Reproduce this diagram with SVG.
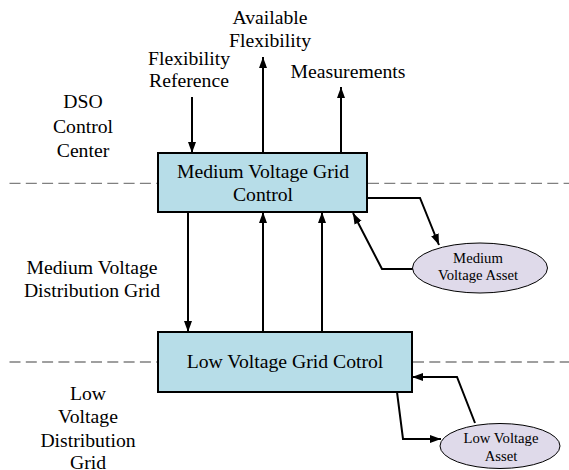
<svg xmlns="http://www.w3.org/2000/svg" width="569" height="470" viewBox="0 0 569 470">
<defs>
<marker id="ah" markerUnits="userSpaceOnUse" markerWidth="12" markerHeight="9" refX="11" refY="4" orient="auto">
<path d="M0,0 L11,4 L0,8 z" fill="#000"/>
</marker>
<style>
.t{fill:#000;text-anchor:middle}
.l{font-size:19.7px}
.s{font-size:14.7px}
.dash{stroke:#808080;stroke-width:1.3;stroke-dasharray:11 5.3;fill:none}
.c{stroke:#000;stroke-width:2;fill:none;marker-end:url(#ah)}
.box{fill:#b7dde8;stroke:#000;stroke-width:2}
.ell{fill:#dfdaea;stroke:#000;stroke-width:1}
</style>
</defs>
<rect width="569" height="470" fill="#fff"/>
<g id="separators">
<line class="dash" x1="9.5" y1="183.3" x2="158" y2="183.3"/>
<line class="dash" x1="368" y1="183.3" x2="569" y2="183.3"/>
<line class="dash" x1="9.5" y1="362" x2="158" y2="362"/>
<line class="dash" x1="413" y1="362" x2="569" y2="362"/>
</g>
<g id="labels" font-family="'Liberation Serif', 'DejaVu Serif', serif">
<text class="t l" x="83" y="108">DSO</text>
<text class="t l" x="83" y="133">Control</text>
<text class="t l" x="83" y="157">Center</text>
<text class="t l" x="92" y="274">Medium Voltage</text>
<text class="t l" x="92" y="297">Distribution Grid</text>
<text class="t l" x="88" y="400">Low</text>
<text class="t l" x="88" y="423">Voltage</text>
<text class="t l" x="88" y="447">Distribution</text>
<text class="t l" x="88" y="469">Grid</text>
<text class="t l" x="270" y="24">Available</text>
<text class="t l" x="270" y="47">Flexibility</text>
<text class="t l" x="189" y="65">Flexibility</text>
<text class="t l" x="189" y="87">Reference</text>
<text class="t l" x="348" y="78">Measurements</text>
</g>
<g id="connectors">
<line class="c" x1="192" y1="97" x2="192" y2="153"/>
<line class="c" x1="263" y1="153" x2="263" y2="57"/>
<line class="c" x1="341" y1="153" x2="341" y2="87"/>
<line class="c" x1="188" y1="212" x2="188" y2="332"/>
<line class="c" x1="263" y1="332" x2="263" y2="212"/>
<line class="c" x1="322" y1="332" x2="322" y2="212"/>
<polyline class="c" points="367,198 420,198 439,245"/>
<polyline class="c" points="413,269 382,269 353,213"/>
<polyline class="c" points="475,423 457,377 412,377"/>
<polyline class="c" points="397,392 403,439 441,439"/>
</g>
<g id="mv-control" font-family="'Liberation Serif', 'DejaVu Serif', serif">
<rect class="box" x="158" y="153" width="209" height="59"/>
<text class="t l" x="263" y="178">Medium Voltage Grid</text>
<text class="t l" x="263" y="201">Control</text>
</g>
<g id="lv-control" font-family="'Liberation Serif', 'DejaVu Serif', serif">
<rect class="box" x="158" y="332" width="254" height="60"/>
<text class="t l" x="285" y="368">Low Voltage Grid Cotrol</text>
</g>
<g id="mv-asset" font-family="'Liberation Serif', 'DejaVu Serif', serif">
<ellipse class="ell" cx="480" cy="268" rx="67.5" ry="25"/>
<text class="t s" x="478" y="263">Medium</text>
<text class="t s" x="478" y="280">Voltage Asset</text>
</g>
<g id="lv-asset" font-family="'Liberation Serif', 'DejaVu Serif', serif">
<ellipse class="ell" cx="500" cy="446" rx="60" ry="22.5"/>
<text class="t s" x="501" y="443">Low Voltage</text>
<text class="t s" x="501" y="461">Asset</text>
</g>
</svg>
